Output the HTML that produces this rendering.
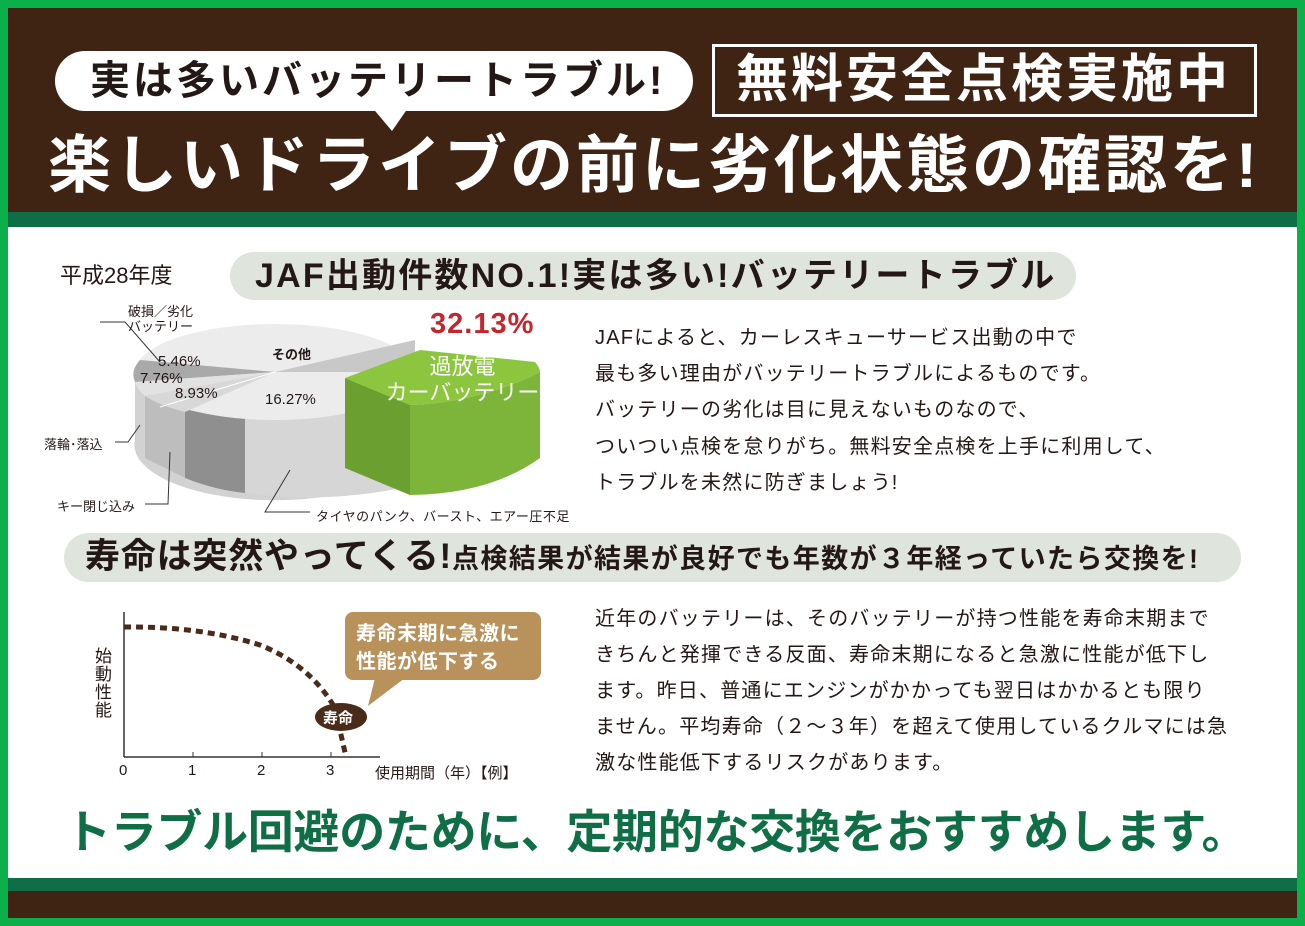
<!DOCTYPE html>
<html><head><meta charset="utf-8"><style>
*{margin:0;padding:0;box-sizing:border-box}
body{width:1305px;height:926px;overflow:hidden;background:#0cb04a;font-family:"Liberation Sans","Noto Sans CJK JP",sans-serif;position:relative}
.a{position:absolute;white-space:nowrap}
.b{font-weight:bold}
</style></head><body>
<div class="a" style="left:8px;top:8px;width:1289px;height:204px;background:#3f2313"></div>
<div class="a" style="left:8px;top:212px;width:1289px;height:15px;background:#0f6e45"></div>
<div class="a" style="left:8px;top:227px;width:1289px;height:651px;background:#fff"></div>
<div class="a" style="left:8px;top:878px;width:1289px;height:13px;background:#0f6e45"></div>
<div class="a" style="left:8px;top:891px;width:1289px;height:27px;background:#3f2313"></div>

<!-- header -->
<div class="a" style="left:55px;top:51px;width:638px;height:60px;background:#fff;border-radius:30px"></div>
<svg class="a" style="left:370px;top:105px" width="50" height="30"><polygon points="0,0 40,0 22,26" fill="#fff"/></svg>
<div class="a b" style="left:90px;top:55px;font-size:40px;line-height:52px;color:#231815;letter-spacing:3px">実は多いバッテリートラブル!</div>
<div class="a" style="left:712px;top:44px;width:545px;height:73px;border:3px solid #fff"></div>
<div class="a b" style="left:736px;top:50px;font-size:52px;line-height:60px;color:#fff;letter-spacing:3px">無料安全点検実施中</div>
<div class="a b" style="left:48px;top:128px;font-size:63px;line-height:76px;color:#fff;letter-spacing:3px">楽しいドライブの前に劣化状態の確認を!</div>

<!-- section 1 -->
<div class="a" style="left:230px;top:252px;width:846px;height:48px;background:#dfe5dc;border-radius:24px"></div>
<div class="a b" style="left:255px;top:254px;font-size:34px;line-height:44px;color:#231815;letter-spacing:2.2px">JAF出動件数NO.1!実は多い!バッテリートラブル</div>
<div class="a" style="left:60px;top:262px;font-size:22px;line-height:28px;color:#231815">平成28年度</div>

<svg class="a" style="left:0;top:290px" width="600" height="240">
<g transform="translate(0,-290)">
<path d="M135,372 L135,440 A140,55 0 0 0 415,450 L415,372 Z" fill="#d2d2d2"/>
<path d="M145,392 L145,458 L185,478 L185,400 Z" fill="#bdbdbd"/>
<path d="M185,395 L185,478 Q215,490 245,493 L245,405 Z" fill="#8f8f8f"/>
<path d="M245,405 L245,493 Q330,505 415,485 L415,395 Z" fill="#d6d6d6"/>
<ellipse cx="275" cy="372" rx="140" ry="48" fill="#ececec"/>
<path d="M275,372 L140,360 A140,48 0 0 0 135,382 Z" fill="#a9a9a9"/>
<path d="M275,372 L135,382 A140,48 0 0 0 145,396 Z" fill="#e2e2e2"/>
<path d="M275,372 L145,396 A140,48 0 0 0 185,412 Z" fill="#d8d8d8"/>
<path d="M275,372 L415,340 L415,372 Z" fill="#c8c8c8"/>
<line x1="275" y1="372" x2="160" y2="407" stroke="#fff" stroke-width="1"/>
<path d="M345,378 L345,468 L410,495 L410,405 Z" fill="#6b9f2f"/>
<path d="M410,405 L410,495 Q490,494 540,458 L540,372 Q480,402 410,405 Z" fill="#7db53b"/>
<path d="M345,378 L420,350 L535,362 Q540,368 540,372 Q480,402 410,405 Z" fill="#8cc63f"/>
<polyline points="100,322 125,322 160,362" fill="none" stroke="#333" stroke-width="1"/>
<polyline points="115,442 128,442 140,425" fill="none" stroke="#333" stroke-width="1"/>
<polyline points="145,504 168,504 170,452" fill="none" stroke="#333" stroke-width="1"/>
<polyline points="310,512 265,512 290,470" fill="none" stroke="#333" stroke-width="1"/>
</g></svg>
<div class="a" style="left:128px;top:304px;font-size:13px;line-height:15px;color:#231815">破損／劣化<br>バッテリー</div>
<div class="a b" style="left:272px;top:344px;font-size:13px;color:#231815">その他</div>
<div class="a" style="left:158px;top:353px;font-size:15px;color:#231815">5.46%</div>
<div class="a" style="left:140px;top:370px;font-size:15px;color:#231815">7.76%</div>
<div class="a" style="left:175px;top:385px;font-size:15px;color:#231815">8.93%</div>
<div class="a" style="left:265px;top:391px;font-size:15px;color:#231815">16.27%</div>
<div class="a" style="left:44px;top:434px;font-size:13px;color:#231815">落輪･落込</div>
<div class="a" style="left:57px;top:496px;font-size:13px;color:#231815">キー閉じ込み</div>
<div class="a" style="left:316px;top:506px;font-size:13px;color:#231815;letter-spacing:0.5px">タイヤのパンク、バースト、エアー圧不足</div>
<div class="a b" style="left:430px;top:308px;font-size:29px;color:#c1272d;letter-spacing:1px">32.13%</div>
<div class="a" style="left:380px;top:354px;font-size:22px;line-height:26px;color:#fff;text-align:center;width:165px">過放電<br>カーバッテリー</div>

<div class="a" style="left:595px;top:320px;font-size:20px;line-height:36.2px;color:#231815;letter-spacing:1.2px">JAFによると、カーレスキューサービス出動の中で<br>最も多い理由がバッテリートラブルによるものです。<br>バッテリーの劣化は目に見えないものなので、<br>ついつい点検を怠りがち。無料安全点検を上手に利用して、<br>トラブルを未然に防ぎましょう!</div>

<!-- section 2 -->
<div class="a" style="left:64px;top:533px;width:1177px;height:49px;background:#dfe5dc;border-radius:25px"></div>
<div class="a b" style="left:85px;top:535px;font-size:35px;line-height:44px;color:#231815;letter-spacing:0.8px">寿命は突然やってくる!<span style="font-size:27px;letter-spacing:1.4px">点検結果が結果が良好でも年数が３年経っていたら交換を!</span></div>

<svg class="a" style="left:0;top:600px" width="560" height="190">
<g transform="translate(0,-600)">
<line x1="124" y1="612" x2="124" y2="757" stroke="#333" stroke-width="1.5"/>
<line x1="124" y1="757" x2="380" y2="757" stroke="#333" stroke-width="1.5"/>
<line x1="193" y1="752" x2="193" y2="757" stroke="#333"/>
<line x1="262" y1="752" x2="262" y2="757" stroke="#333"/>
<line x1="331" y1="752" x2="331" y2="757" stroke="#333"/>
<path d="M124,627 Q200,626 260,645 Q310,665 335,708 L346,757" fill="none" stroke="#4a2a18" stroke-width="5" stroke-dasharray="7,5"/>
<rect x="345" y="612" width="196" height="68" rx="8" fill="#b8925a"/>
<polygon points="375,678 405,678 368,706" fill="#b8925a"/>
<ellipse cx="341" cy="717" rx="26" ry="14" fill="#4a2a18"/>
</g></svg>
<div class="a b" style="left:356px;top:620px;font-size:20px;line-height:28px;color:#fff;letter-spacing:0.5px">寿命末期に急激に<br>性能が低下する</div>
<div class="a b" style="left:323px;top:707px;font-size:15px;color:#fff">寿命</div>
<div class="a" style="left:95px;top:648px;font-size:17px;line-height:18px;width:20px;color:#231815">始<br>動<br>性<br>能</div>
<div class="a" style="left:119px;top:762px;font-size:15px;color:#231815">0</div>
<div class="a" style="left:188px;top:762px;font-size:15px;color:#231815">1</div>
<div class="a" style="left:257px;top:762px;font-size:15px;color:#231815">2</div>
<div class="a" style="left:326px;top:762px;font-size:15px;color:#231815">3</div>
<div class="a" style="left:375px;top:762px;font-size:15px;color:#231815">使用期間（年）【例】</div>

<div class="a" style="left:595px;top:601px;font-size:20px;line-height:36px;color:#231815;letter-spacing:1.2px">近年のバッテリーは、そのバッテリーが持つ性能を寿命末期まで<br>きちんと発揮できる反面、寿命末期になると急激に性能が低下し<br>ます。昨日、普通にエンジンがかかっても翌日はかかるとも限り<br>ません。平均寿命（２～３年）を超えて使用しているクルマには急<br>激な性能低下するリスクがあります。</div>

<div class="a b" style="left:65px;top:803px;font-size:46px;line-height:58px;color:#0f6e45;letter-spacing:-0.3px">トラブル回避のために、定期的な交換をおすすめします。</div>
</body></html>
